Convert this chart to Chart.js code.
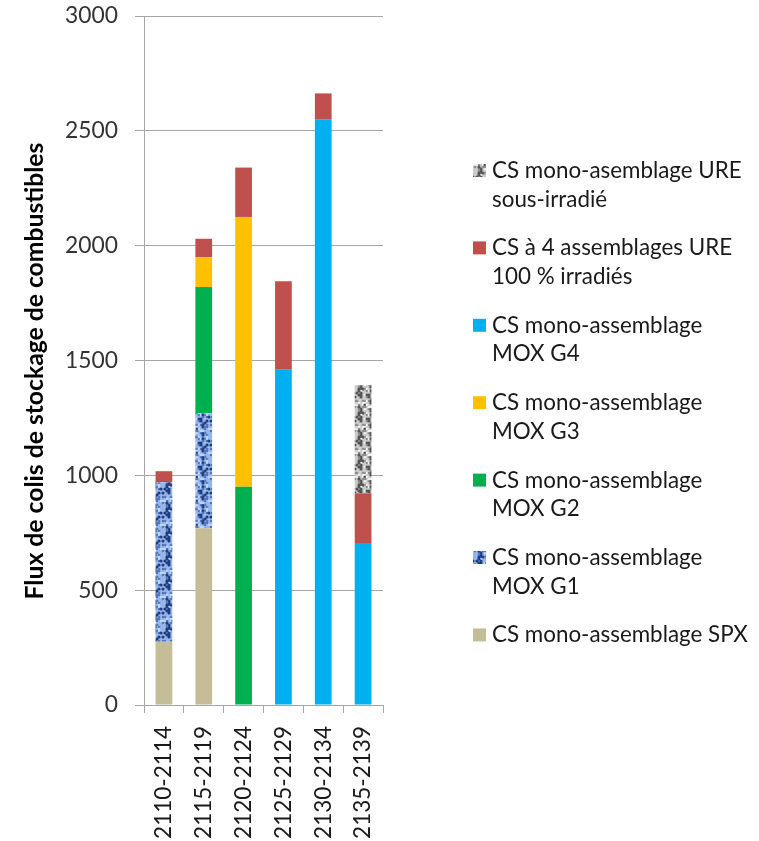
<!DOCTYPE html>
<html>
<head>
<meta charset="utf-8">
<script src="https://cdn.jsdelivr.net/npm/chart.js@4/dist/chart.umd.min.js"></script>
<style>
  html, body { margin: 0; padding: 0; background: #fff; }
  #wrap { position: relative; width: 759px; height: 841px; }
</style>
</head>
<body>
<div id="wrap"><canvas id="c" width="759" height="841"></canvas></div>
<script>
// ---- Data ----
const categories = ['2110-2114', '2115-2119', '2120-2124', '2125-2129', '2130-2134', '2135-2139'];
const seriesNames = [
  'CS mono-assemblage SPX',
  'CS mono-assemblage MOX G1',
  'CS mono-assemblage MOX G2',
  'CS mono-assemblage MOX G3',
  'CS mono-assemblage MOX G4',
  'CS à 4 assemblages URE 100 % irradiés',
  'CS mono-asemblage URE sous-irradié'
];
const spx   = [275, 770,    0,    0,    0,    0];
const moxG1 = [695, 500,    0,    0,    0,    0];
const moxG2 = [  0, 550,  950,    0,    0,    0];
const moxG3 = [  0, 130, 1175,    0,    0,    0];
const moxG4 = [  0,   0,    0, 1460, 2550,  705];
const ure4  = [ 48,  80,  215,  385,  113,  217];
const ureSous = [0,   0,    0,    0,    0,  470];
const yTicks = [0, 500, 1000, 1500, 2000, 2500, 3000];
const yTitle = 'Flux de colis de stockage de combustibles';
// legend lines (two-line labels, top to bottom as shown)
const legendLines = [
  ['CS mono-asemblage URE', 'sous-irradié'],
  ['CS à 4 assemblages URE', '100 % irradiés'],
  ['CS mono-assemblage', 'MOX G4'],
  ['CS mono-assemblage', 'MOX G3'],
  ['CS mono-assemblage', 'MOX G2'],
  ['CS mono-assemblage', 'MOX G1'],
  ['CS mono-assemblage SPX']
];

// ---- Styles ----
const FAMILY = 'Lato, "Open Sans", sans-serif';
const GRID = '#a6a6a6';
const mctx = document.createElement('canvas').getContext('2d');
function fitSize(text, target, weight) {
  mctx.font = weight + ' 100px ' + FAMILY;
  return 100 * target / mctx.measureText(text).width;
}
const tickSize = fitSize('3000', 53, 'normal');
const xLabSize = fitSize('2110-2114', 113, 'normal');
const legSize = fitSize('CS mono-asemblage URE', 250, 'normal');
const titleSize = fitSize(yTitle, 457, 'bold');

// deterministic mottled texture (hash-based, purely decorative)
function texture(base, dark, mid, light, size) {
  const raw = document.createElement('canvas');
  raw.width = size * 3; raw.height = size * 3;
  const g = raw.getContext('2d');
  g.fillStyle = base; g.fillRect(0, 0, raw.width, raw.height);
  const h = (x, y) => { const s = Math.sin(x * 127.1 + y * 311.7) * 43758.5453; return s - Math.floor(s); };
  for (let y = 0; y < size; y += 2) {
    for (let x = 0; x < size; x += 2) {
      const v = h(x, y);
      let col = null, r = 0;
      if (v < 0.2) { col = dark; r = 1.6; }
      else if (v < 0.4) { col = mid; r = 1.3; }
      else if (v > 0.86) { col = light; r = 1.3; }
      if (!col) continue;
      g.fillStyle = col;
      for (let ox = 0; ox < 3; ox++) for (let oy = 0; oy < 3; oy++) {
        g.beginPath(); g.arc(x + 1 + ox * size, y + 1 + oy * size, r, 0, 7); g.fill();
      }
    }
  }
  const c = document.createElement('canvas');
  c.width = size; c.height = size;
  const g2 = c.getContext('2d');
  g2.filter = 'blur(0.7px)';
  g2.drawImage(raw, -size, -size);
  return mctx.createPattern(c, 'repeat');
}
const blueTex = texture('#96b6ec', '#213f7e', '#5577bb', '#c0d5f7', 24);
const greyTex = texture('#cbcbcb', '#555555', '#8f8f8f', '#efefef', 24);

const colors = ['#c4bd97', blueTex, '#00b050', '#ffc000', '#00b0f0', '#c0504d', greyTex];
const seriesData = [spx, moxG1, moxG2, moxG3, moxG4, ure4, ureSous];

const datasets = seriesData.map((d, i) => ({
  label: seriesNames[i],
  data: d,
  backgroundColor: colors[i],
  borderWidth: 0,
  barPercentage: 0.42,
  categoryPercentage: 1.0
}));

const extras = {
  id: 'extras',
  afterDraw(chart) {
    const ctx = chart.ctx;
    // y-axis title
    ctx.save();
    ctx.translate(35, 371);
    ctx.rotate(-Math.PI / 2);
    ctx.font = 'bold ' + titleSize + 'px ' + FAMILY;
    ctx.fillStyle = '#000';
    ctx.textAlign = 'center';
    ctx.textBaseline = 'middle';
    ctx.fillText(yTitle, 0, 0);
    ctx.restore();
    // legend (reverse of stacking order)
    ctx.save();
    ctx.font = legSize + 'px ' + FAMILY;
    ctx.textBaseline = 'alphabetic';
    const legColors = colors.slice().reverse();
    legendLines.forEach((lines, i) => {
      const base = 178 + i * 77.4;
      ctx.fillStyle = legColors[i];
      ctx.fillRect(473, base - 14, 13, 13);
      ctx.fillStyle = '#1a1a1a';
      lines.forEach((t, j) => ctx.fillText(t, 492, base + j * 28.5));
    });
    ctx.restore();
  }
};

new Chart(document.getElementById('c'), {
  type: 'bar',
  data: { labels: categories, datasets },
  options: {
    responsive: false,
    animation: false,
    devicePixelRatio: 1,
    layout: { padding: { left: 0, top: 16, right: 376, bottom: 0 } },
    plugins: { legend: { display: false }, tooltip: { enabled: false } },
    scales: {
      x: {
        stacked: true,
        grid: { display: true, drawOnChartArea: false, drawTicks: true, tickLength: 8, color: GRID, lineWidth: 1, offset: true },
        border: { display: true, color: GRID, width: 1 },
        ticks: { minRotation: 90, maxRotation: 90, autoSkip: false, padding: 13, color: '#1a1a1a', font: { family: FAMILY, size: xLabSize } },
        afterFit(s) { s.height = 841 - 705; s.paddingLeft = 0; s.paddingRight = 0; }
      },
      y: {
        stacked: true,
        min: 0, max: 3000,
        afterBuildTicks(s) { s.ticks = yTicks.map(v => ({ value: v })); },
        grid: { color: GRID, lineWidth: 1, tickLength: 9, drawTicks: true },
        border: { display: true, color: GRID, width: 1 },
        ticks: { padding: 17, color: '#333333', font: { family: FAMILY, size: tickSize }, callback: v => String(v) },
        afterFit(s) { s.width = 144; s.paddingTop = 0; s.paddingBottom = 0; }
      }
    }
  },
  plugins: [extras]
});
</script>
</body>
</html>
